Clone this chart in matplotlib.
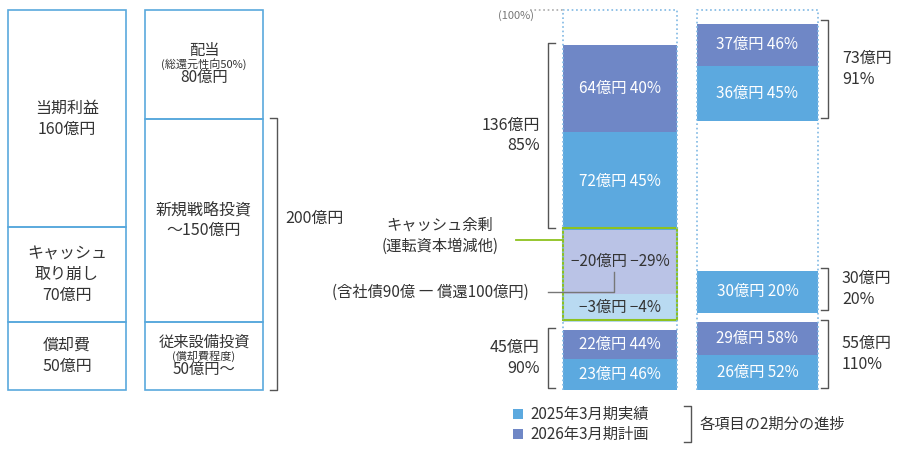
import matplotlib
matplotlib.use("Agg")
import matplotlib.pyplot as plt
from matplotlib.patches import Rectangle

plt.rcParams["font.family"] = "Noto Sans CJK JP"

# ---- data ----
src_labels = ["償却費\n50億円", "キャッシュ\n取り崩し\n70億円", "当期利益\n160億円"]
src_values = [50, 70, 160]
use_labels = ["従来設備投資\n(償却費程度)\n50億円～", "新規戦略投資\n～150億円", "配当\n(総還元性向50%)\n80億円"]
use_values = [50, 150, 80]
colA_labels = ["23億円 46%", "22億円 44%", "", "−3億円 −4%", "−20億円 −29%", "72億円 45%", "64億円 40%"]
colA_heights = [23, 21, 6, 21, 47, 72, 64]
colA_kind = ["a", "p", None, "c2", "c1", "a", "p"]
colB_labels = ["26億円 52%", "29億円 58%", "", "30億円 20%", "", "36億円 45%", "37億円 46%"]
colB_heights = [26, 24, 7, 31, 110, 41, 31]
colB_kind = ["a", "p", None, "a", None, "a", "p"]
legend_labels = ["2025年3月期実績", "2026年3月期計画"]

colors = {"a": "#5ca9df", "p": "#6f87c6", "c1": "#bac3e6", "c2": "#b9daf1"}
edge = "#5aa9dd"
txt = "#333333"

fig = plt.figure(figsize=(9, 4.51), dpi=100)
ax = fig.add_axes([0, 0, 1, 1])
K = 1.357
ax.set_xlim(0, 900)
ax.set_ylim(-(451 - 390) / K, 390 / K)
ax.axis("off")
def v(py):
    return (390 - py) / K

def stack_boxes(x0, w, vals, labels):
    b = 0
    for val, lab in zip(vals, labels):
        ax.add_patch(Rectangle((x0, b), w, val, fill=False, ec=edge, lw=1.2))
        lines = lab.split("\n")
        if len(lines) == 3 and "(" in lines[1]:
            yc = b + val / 2
            ax.text(x0 + w / 2, yc + 10, lines[0], ha="center", va="center", fontsize=11, color=txt)
            ax.text(x0 + w / 2, yc, lines[1], ha="center", va="center", fontsize=8, color=txt)
            ax.text(x0 + w / 2, yc - 10, lines[2], ha="center", va="center", fontsize=11, color=txt)
        else:
            ax.text(x0 + w / 2, b + val / 2, lab, ha="center", va="center", fontsize=11.5, color=txt, linespacing=1.3)
        b += val

stack_boxes(8, 118, src_values, src_labels)
stack_boxes(145, 118, use_values, use_labels)

# bracket 200
ax.plot([270, 277, 277, 270], [v(118), v(118), v(390), v(390)], color="#555", lw=1)
ax.text(285, v(218), "200億円", fontsize=11.5, color=txt, va="center")

def stack_bars(x, w, heights, kinds, labels):
    b = 0
    for h, k, lab in zip(heights, kinds, labels):
        if k is not None:
            ax.bar(x, h, bottom=b, width=w, color=colors[k], align="edge", lw=0)
            tc = "white" if k in ("a", "p") else txt
            ax.text(x + w / 2, b + h / 2, lab, ha="center", va="center", fontsize=11, color=tc)
        b += h

stack_bars(563, 114, colA_heights, colA_kind, colA_labels)
stack_bars(697, 121, colB_heights, colB_kind, colB_labels)

# dotted outlines
dc = "#7fb8e3"
for x0, x1 in [(563, 677), (697, 818)]:
    ax.plot([x0, x0, x1, x1], [0, v(10), v(10), 0], ls=":", color=dc, lw=1.2)
ax.plot([530, 563], [v(10), v(10)], ls=":", color="#aaa", lw=1.2)
ax.text(498, v(16), "(100%)", fontsize=8, color="#777", va="center")

# green box
ax.add_patch(Rectangle((563, v(320)), 114, v(228) - v(320), fill=False, ec="#8dc21f", lw=1.5))
ax.plot([516, 563], [v(240), v(240)], color="#8dc21f", lw=1.3)
ax.text(440, v(236), "キャッシュ余剰\n(運転資本増減他)", ha="center", va="center", fontsize=11, color=txt, linespacing=1.3)
ax.plot([548, 614, 614], [v(292), v(292), v(272)], color="#777", lw=1)
ax.text(430, v(292), "(含社債90億 ― 償還100億円)", ha="center", va="center", fontsize=11, color=txt)

def bracket(x, y0, y1, side, label, tx, ha):
    d = 7 if side == "right" else -7
    ax.plot([x - d, x, x, x - d], [v(y0), v(y0), v(y1), v(y1)], color="#555", lw=1)
    ax.text(tx, v((y0 + y1) / 2), label, ha=ha, va="center", fontsize=11.5, color=txt, linespacing=1.3)

bracket(548, 43, 228, "left", "136億円\n85%", 540, "right")
bracket(548, 328, 388, "left", "45億円\n90%", 540, "right")
bracket(828, 20, 118, "right", "73億円\n91%", 842, "left")
bracket(828, 268, 310, "right", "30億円\n20%", 842, "left")
bracket(828, 320, 388, "right", "55億円\n110%", 842, "left")

# legend
for i, (lab, k) in enumerate(zip(legend_labels, ["a", "p"])):
    py = 414 + i * 20
    ax.add_patch(Rectangle((513, v(py + 5)), 10, 10 / K, color=colors[k], lw=0))
    ax.text(530, v(py), lab, va="center", fontsize=11, color=txt)
ax.plot([684, 691, 691, 684], [v(406), v(406), v(442), v(442)], color="#555", lw=1)
ax.text(700, v(424), "各項目の2期分の進捗", va="center", fontsize=11, color=txt)

fig.savefig("out.png", dpi=100)
